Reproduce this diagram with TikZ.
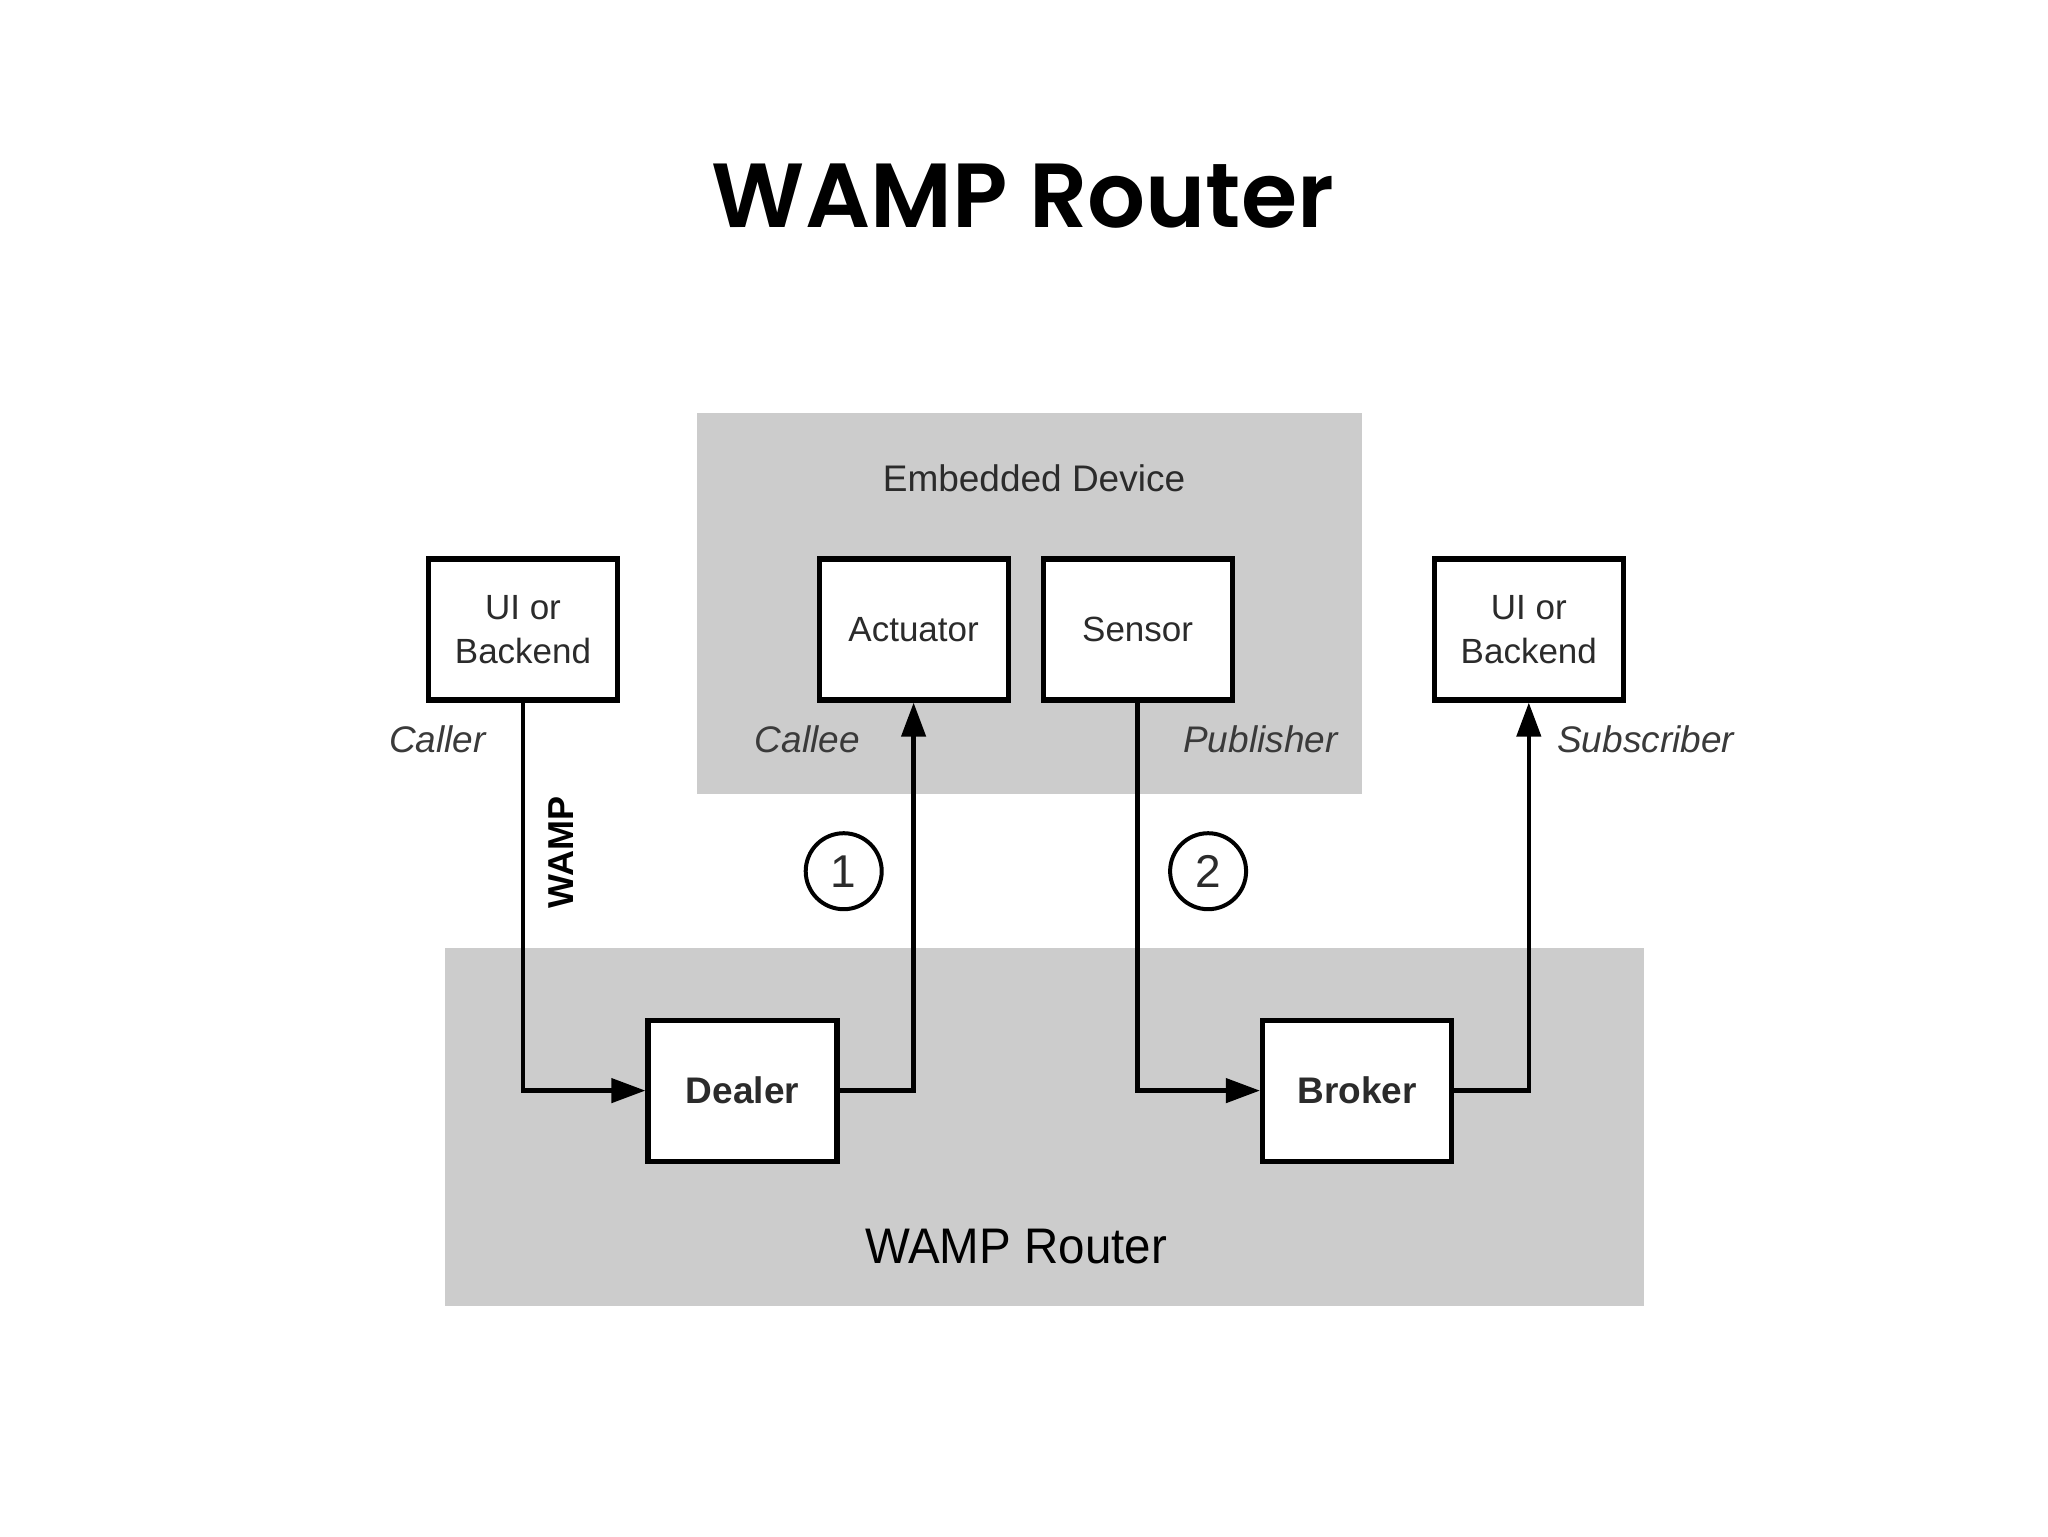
\documentclass[tikz,border=0pt]{standalone}
\usepackage{fontspec}
\setmainfont{Liberation Sans}
\newfontfamily\titlefont{Poppins}[UprightFont={* SemiBold}]
\usetikzlibrary{arrows.meta}
\definecolor{panel}{HTML}{CCCCCC}
\definecolor{ink}{HTML}{2B2B2B}
\definecolor{lbl}{HTML}{3A3A3A}
\tikzset{
  box/.style={draw=black, line width=2.6pt, fill=white, minimum width=94.5pt, minimum height=70.5pt, inner sep=0pt, align=center, text=ink, font=\fontsize{17.5}{22}\selectfont},
  boldbox/.style={box, font=\fontsize{18.5}{22}\selectfont\bfseries},
  role/.style={text=lbl, font=\fontsize{18.5}{22}\selectfont\itshape, inner sep=0pt},
  conn/.style={draw=black, line width=2.2pt, -{Triangle[length=17pt,width=12pt]}},
  num/.style={circle, draw=black, line width=2pt, minimum size=38pt, inner sep=0pt, text=ink, font=\fontsize{23}{26}\selectfont},
  panelbox/.style={fill=panel, draw=none}
}
\begin{document}
\begin{tikzpicture}[x=0.5pt, y=-0.5pt]
\useasboundingbox (0,0) rectangle (2048,1536);
\fill[white] (0,0) rectangle (2048,1536);
% title
\node (title) at (1023,196) {\resizebox{311pt}{!}{\titlefont WAMP Router}};
% panels
\path[panelbox] (697,413) rectangle (1362,794);
\path[panelbox] (445,948) rectangle (1644,1306);
\node[text=ink, font=\fontsize{18.5}{22}\selectfont, inner sep=0pt] (emb) at (1034,478) {Embedded Device};
\node[text=black, font=\fontsize{25}{28}\selectfont, inner sep=0pt] (rtr) at (1016,1247) {\scalebox{0.95}[1]{WAMP Router}};
% boxes
\node[box] (uil) at (523,629.5) {UI or\\Backend};
\node[box] (act) at (913.6,629.5) {Actuator};
\node[box] (sen) at (1137.6,629.5) {Sensor};
\node[box] (uir) at (1528.8,629.5) {UI or\\Backend};
\node[boldbox] (dealer) at (742.5,1090.6) {Dealer};
\node[boldbox] (broker) at (1357,1090.6) {Broker};
% connectors
\draw[conn] (uil.south) |- (dealer.west);
\draw[conn] (dealer.east) -| (act.south);
\draw[conn] (sen.south) |- (broker.west);
\draw[conn] (broker.east) -| (uir.south);
% role labels
\node[role] (caller) at (437.5,739.3) {Caller};
\node[role] (callee) at (807.2,739.3) {Callee};
\node[role] (pub) at (1260.4,739.3) {Publisher};
\node[role] (sub) at (1645.7,739.3) {Subscriber};
\node[rotate=90, text=black, font=\fontsize{18}{22}\selectfont\bfseries, inner sep=0pt] (wamp) at (561.6,852.9) {WAMP};
% step numbers
\node[num] (n1) at (843.7,871.2) {1};
\node[num] (n2) at (1208.1,871.2) {2};
\end{tikzpicture}
\end{document}
